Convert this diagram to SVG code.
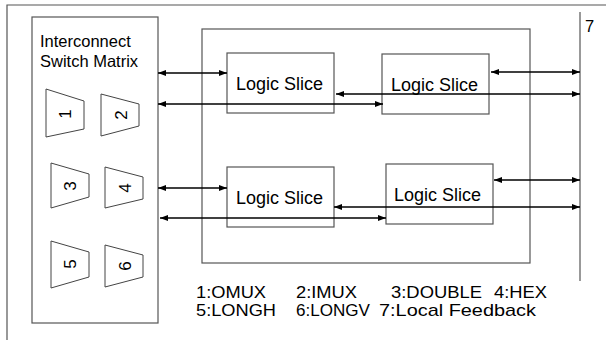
<svg xmlns="http://www.w3.org/2000/svg" width="606" height="340" viewBox="0 0 606 340">
<defs>
<marker id="ah" viewBox="0 0 8 6" refX="8" refY="3" markerWidth="8" markerHeight="6" markerUnits="userSpaceOnUse" orient="auto-start-reverse">
<path d="M0,0 L8,3 L0,6 z" fill="#000"/>
</marker>
</defs>
<style>
.box{fill:#fff;stroke:#555;stroke-width:1.2}
.frame{fill:none;stroke:#555;stroke-width:1.2}
.trap{fill:#fff;stroke:#444;stroke-width:1}
.conn line{stroke:#000;stroke-width:1.6;marker-start:url(#ah);marker-end:url(#ah)}
text{font-family:"Liberation Sans",Arial,sans-serif;fill:#000}
.ls{font-size:18px}
.lbl{font-size:16.5px}
.num{font-size:17px;text-anchor:middle;dominant-baseline:central}
.leg{font-size:17px}
</style>
<rect width="606" height="340" fill="#fff"/>
<g id="frame">
<path class="frame" d="M7,340 V5 H606"/>
<line class="frame" x1="580" y1="12" x2="580" y2="281"/>
<text class="lbl" x="585" y="32">7</text>
</g>
<g id="switch-matrix">
<rect class="box" x="32" y="17" width="126" height="306"/>
<text class="lbl" x="40" y="47">Interconnect</text>
<text class="lbl" x="40" y="67">Switch Matrix</text>
</g>
<g id="mux1"><polygon class="trap" points="46,89 84,101 84,129 46,137"/><text class="num" transform="translate(65,114) rotate(-90)">1</text></g>
<g id="mux2"><polygon class="trap" points="101,94 139,104 139,126 101,136"/><text class="num" transform="translate(121,115) rotate(-90)">2</text></g>
<g id="mux3"><polygon class="trap" points="51,163 89,174 89,197 51,208"/><text class="num" transform="translate(70,186) rotate(-90)">3</text></g>
<g id="mux4"><polygon class="trap" points="105,167 143,177 143,199 105,208"/><text class="num" transform="translate(125,188) rotate(-90)">4</text></g>
<g id="mux5"><polygon class="trap" points="51,241 89,252 89,277 51,288"/><text class="num" transform="translate(70,264) rotate(-90)">5</text></g>
<g id="mux6"><polygon class="trap" points="105,245 143,255 143,277 105,287"/><text class="num" transform="translate(125,266) rotate(-90)">6</text></g>
<g id="clb">
<rect class="box" x="202" y="29" width="328" height="234"/>
</g>
<g id="slice1"><rect class="box" x="227" y="53" width="107" height="60"/><text class="ls" x="236" y="90">Logic Slice</text></g>
<g id="slice2"><rect class="box" x="382" y="54" width="107" height="60"/><text class="ls" x="391" y="91">Logic Slice</text></g>
<g id="slice3"><rect class="box" x="227" y="167" width="107" height="60"/><text class="ls" x="236" y="204">Logic Slice</text></g>
<g id="slice4"><rect class="box" x="386" y="164" width="107" height="60"/><text class="ls" x="394" y="201">Logic Slice</text></g>
<g id="connectors" class="conn">
<line x1="158" y1="73" x2="227" y2="73"/>
<line x1="158" y1="104" x2="383" y2="104"/>
<line x1="336" y1="94" x2="580" y2="94"/>
<line x1="491" y1="72" x2="580" y2="72"/>
<line x1="158" y1="188" x2="227" y2="188"/>
<line x1="160" y1="218" x2="386" y2="218"/>
<line x1="334" y1="207" x2="580" y2="207"/>
<line x1="494" y1="180" x2="580" y2="180"/>
</g>
<g id="legend">
<text class="leg" x="196" y="298" textLength="70" lengthAdjust="spacingAndGlyphs">1:OMUX</text>
<text class="leg" x="296" y="298" textLength="61" lengthAdjust="spacingAndGlyphs">2:IMUX</text>
<text class="leg" x="391" y="298" textLength="91" lengthAdjust="spacingAndGlyphs">3:DOUBLE</text>
<text class="leg" x="494" y="298" textLength="53" lengthAdjust="spacingAndGlyphs">4:HEX</text>
<text class="leg" x="196" y="316" textLength="80" lengthAdjust="spacingAndGlyphs">5:LONGH</text>
<text class="leg" x="296" y="316" textLength="74" lengthAdjust="spacingAndGlyphs">6:LONGV</text>
<text class="leg" x="379" y="316" textLength="157" lengthAdjust="spacingAndGlyphs">7:Local Feedback</text>
</g>
</svg>
